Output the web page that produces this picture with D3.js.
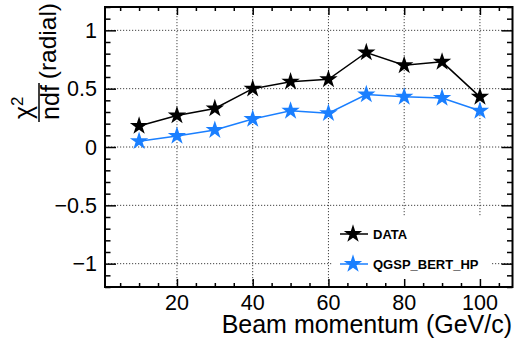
<!DOCTYPE html>
<html>
<head>
<meta charset="utf-8">
<script src="https://cdn.jsdelivr.net/npm/d3@7"></script>
<style>
body{margin:0;background:#fff;}
svg{display:block;font-family:"Liberation Sans",Arial,Helvetica,sans-serif;}
</style>
</head>
<body>
<svg id="chart" width="514" height="344"></svg>
<script>
// momentum points (GeV/c)
var momentum=[10,20,30,40,50,60,70,80,90,100];
var chi2Data=[0.18,0.27,0.33,0.50,0.56,0.58,0.81,0.70,0.73,0.43];
var chi2Qgsp=[0.05,0.095,0.145,0.24,0.31,0.29,0.45,0.43,0.42,0.31];
var seriesNames=["DATA","QGSP_BERT_HP"];
var xTicks=[20,40,60,80,100];
var yTicks=[-1,-0.5,0,0.5,1];
var yTickLabels=["\u22121","\u22120.5","0","0.5","1"];

var svg=d3.select("#chart");
var fLeft=105, fRight=512.5, fTop=7, fBottom=287;

var x=d3.scaleLinear().domain([1,108.6]).range([fLeft,fRight]);
var y=d3.scaleLinear().domain([-1.2,1.2]).range([fBottom,fTop]);

// grid
var grid=svg.append("g").attr("stroke","#444").attr("stroke-width",1).attr("stroke-dasharray","1.2,1.8");
xTicks.forEach(function(t){
  grid.append("line").attr("x1",x(t)).attr("x2",x(t)).attr("y1",fTop).attr("y2",fBottom);
});
yTicks.forEach(function(t){
  grid.append("line").attr("x1",fLeft).attr("x2",fRight).attr("y1",y(t)).attr("y2",y(t));
});

// legend box covers grid
svg.append("rect").attr("x",333).attr("y",217).attr("width",158).attr("height",69).attr("fill","#fff");

// ticks (inward, all four sides)
var xMinor=d3.range(5,108,5).filter(function(v){return xTicks.indexOf(v)<0;});
var yMinor=d3.range(-12,13).map(function(v){return v/10;}).filter(function(v){return yTicks.indexOf(v)<0;});

svg.append("g").attr("transform","translate(0,"+fBottom+")")
  .call(d3.axisBottom(x).tickValues(xTicks).tickSize(-8).tickFormat(""));
svg.append("g").attr("transform","translate(0,"+fBottom+")")
  .call(d3.axisBottom(x).tickValues(xMinor).tickSize(-4).tickFormat(""));
svg.append("g").attr("transform","translate(0,"+fTop+")")
  .call(d3.axisTop(x).tickValues(xTicks).tickSize(-8).tickFormat(""));
svg.append("g").attr("transform","translate(0,"+fTop+")")
  .call(d3.axisTop(x).tickValues(xMinor).tickSize(-4).tickFormat(""));
svg.append("g").attr("transform","translate("+fLeft+",0)")
  .call(d3.axisLeft(y).tickValues(yTicks).tickSize(-11).tickFormat(""));
svg.append("g").attr("transform","translate("+fLeft+",0)")
  .call(d3.axisLeft(y).tickValues(yMinor).tickSize(-5.5).tickFormat(""));
svg.append("g").attr("transform","translate("+fRight+",0)")
  .call(d3.axisRight(y).tickValues(yTicks).tickSize(-11).tickFormat(""));
svg.append("g").attr("transform","translate("+fRight+",0)")
  .call(d3.axisRight(y).tickValues(yMinor).tickSize(-5.5).tickFormat(""));
svg.selectAll(".domain").remove();
svg.selectAll(".tick line").attr("stroke","#000").attr("stroke-width",1.5);

// tick labels
svg.append("g").selectAll("text").data(xTicks).enter().append("text")
  .attr("x",function(d){return x(d);}).attr("y",310)
  .attr("text-anchor","middle").attr("font-size",21.5).text(function(d){return d;});
svg.append("g").selectAll("text").data(yTicks).enter().append("text")
  .attr("x",97).attr("y",function(d){return y(d)+7.5;})
  .attr("text-anchor","end").attr("font-size",21.5).text(function(d,i){return yTickLabels[i];});

// frame
svg.append("rect").attr("x",fLeft).attr("y",fTop).attr("width",fRight-fLeft).attr("height",fBottom-fTop)
  .attr("fill","none").attr("stroke","#000").attr("stroke-width",2);

// series
var colors=["#000000","#1a7fff"];
var star=d3.symbol().type(d3.symbolStar).size(105);
[chi2Data,chi2Qgsp].forEach(function(vals,k){
  var pts=momentum.map(function(m,i){return [m,vals[i]];});
  svg.append("path").datum(pts)
    .attr("d",d3.line().x(function(d){return x(d[0]);}).y(function(d){return y(d[1]);}))
    .attr("fill","none").attr("stroke",colors[k]).attr("stroke-width",1.5);
  svg.append("g").selectAll("path").data(pts).enter().append("path")
    .attr("transform",function(d){return "translate("+x(d[0])+","+y(d[1])+")";})
    .attr("d",star).attr("fill",colors[k]);
});

// legend
seriesNames.forEach(function(name,k){
  var ly=234+30*k;
  svg.append("line").attr("x1",340).attr("x2",368).attr("y1",ly).attr("y2",ly)
    .attr("stroke",colors[k]).attr("stroke-width",1.5);
  svg.append("path").attr("transform","translate(353,"+ly+")").attr("d",star).attr("fill",colors[k]);
  svg.append("text").attr("x",373).attr("y",ly+4.5).attr("font-size",13).attr("font-weight","bold").text(name);
});

// axis titles
svg.append("text").attr("x",512).attr("y",333).attr("text-anchor","end").attr("font-size",25)
  .text("Beam momentum (GeV/c)");

var yt=svg.append("g").attr("transform","rotate(-90)");
yt.append("text").attr("x",-3).attr("y",56).attr("text-anchor","end").attr("font-size",24.5).text("(radial)");
yt.append("line").attr("x1",-122).attr("x2",-83).attr("y1",39).attr("y2",39).attr("stroke","#000").attr("stroke-width",1.5);
yt.append("text").attr("x",-102.5).attr("y",59).attr("text-anchor","middle").attr("font-size",25).text("ndf");
var chi=yt.append("text").attr("x",-119).attr("y",32).attr("font-size",25);
chi.append("tspan").text("\u03c7");
chi.append("tspan").attr("dy",-9).attr("font-size",17).text("2");
</script>
</body>
</html>
